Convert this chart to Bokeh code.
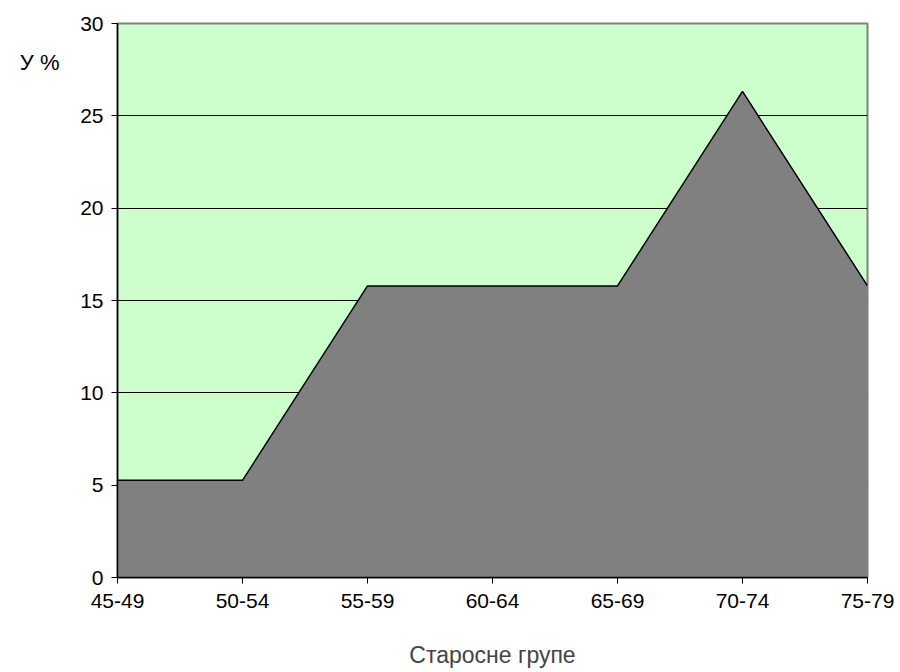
from bokeh.plotting import figure
from bokeh.models import Range1d, FixedTicker, LinearAxis
from bokeh.embed import file_html
from bokeh.resources import INLINE

groups = ["45-49", "50-54", "55-59", "60-64", "65-69", "70-74", "75-79"]
values = [5.26, 5.26, 15.79, 15.79, 15.79, 26.32, 15.79]
y_ticks = [0, 5, 10, 15, 20, 25, 30]
y_caption = "У %"
y_caption_at = 27.9

xs = list(range(len(groups)))

p = figure(width=900, height=672, output_backend="svg", toolbar_location=None,
           x_range=Range1d(0, len(groups) - 1), y_range=Range1d(0, 30),
           min_border_left=117, min_border_right=33, min_border_top=23, min_border_bottom=95)
p.background_fill_color = "#ccffcc"
p.border_fill_color = "white"
p.outline_line_color = "#808080"
p.outline_line_width = 2

p.varea(x=xs, y1=[0] * len(xs), y2=values, fill_color="#808080")
p.line(x=xs, y=values, line_color="black", line_width=1.5)

p.xgrid.grid_line_color = None
p.ygrid.grid_line_color = "black"
p.ygrid.grid_line_width = 1
p.ygrid.ticker = FixedTicker(ticks=y_ticks)

font = "Liberation Sans"
p.yaxis.ticker = FixedTicker(ticks=y_ticks)
p.xaxis.ticker = FixedTicker(ticks=xs)
p.xaxis.major_label_overrides = {i: g for i, g in enumerate(groups)}
for ax in (p.xaxis, p.yaxis):
    ax.axis_line_color = "black"
    ax.axis_line_width = 1.5
    ax.major_tick_line_color = "black"
    ax.major_tick_in = 0
    ax.major_tick_out = 6
    ax.minor_tick_line_color = None
    ax.major_label_text_font = font
    ax.major_label_text_font_size = "21px"
    ax.major_label_text_color = "black"
p.xaxis.major_label_standoff = 10
p.yaxis.major_label_standoff = 8

p.xaxis.axis_label = "Старосне групе"
p.xaxis.axis_label_text_font = font
p.xaxis.axis_label_text_font_size = "23px"
p.xaxis.axis_label_text_font_style = "normal"
p.xaxis.axis_label_standoff = 31

# horizontal y caption at the top-left, drawn as a bare outer axis
cap_axis = LinearAxis(ticker=FixedTicker(ticks=[y_caption_at]),
                      major_label_overrides={y_caption_at: y_caption},
                      axis_line_color=None, major_tick_line_color=None,
                      minor_tick_line_color=None, major_tick_out=0, major_tick_in=0,
                      major_label_standoff=18, major_label_text_font=font,
                      major_label_text_font_size="22px", major_label_text_color="black")
p.add_layout(cap_axis, "left")

open("out.html", "w").write(file_html(p, INLINE))
